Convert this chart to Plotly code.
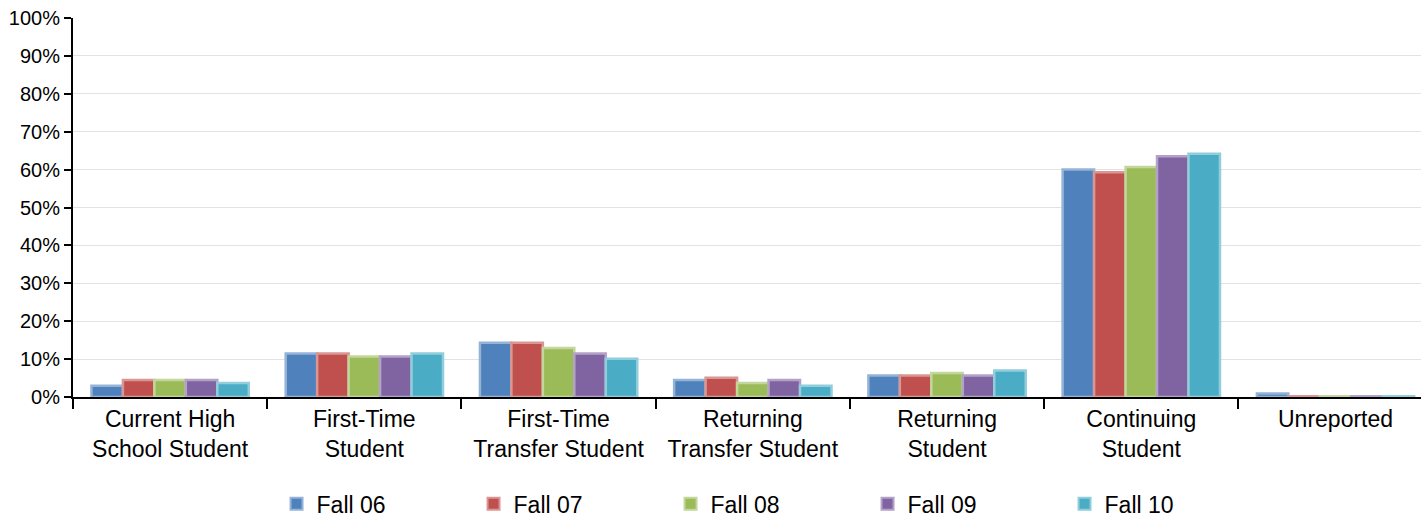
import plotly.graph_objects as go

categories = ["Current High<br>School Student", "First-Time<br>Student", "First-Time<br>Transfer Student",
              "Returning<br>Transfer Student", "Returning<br>Student", "Continuing<br>Student", "Unreported"]
series_names = ["Fall 06", "Fall 07", "Fall 08", "Fall 09", "Fall 10"]
fall06 = [3.0, 11.5, 14.3, 4.5, 5.7, 60.0, 0.9]
fall07 = [4.5, 11.5, 14.3, 5.1, 5.7, 59.3, 0.2]
fall08 = [4.5, 10.7, 12.9, 3.7, 6.3, 60.7, 0.2]
fall09 = [4.5, 10.7, 11.5, 4.5, 5.7, 63.5, 0.2]
fall10 = [3.7, 11.5, 10.1, 3.0, 7.0, 64.2, 0.2]
y_ticks = [0, 10, 20, 30, 40, 50, 60, 70, 80, 90, 100]

fills = ["#4F81BD", "#C0504D", "#9BBB59", "#8064A2", "#4BACC6"]
borders = ["#95B3D7", "#D99694", "#C3D69B", "#B3A2C7", "#92CDDC"]

fig = go.Figure()
for name, vals, fc, bc in zip(series_names, [fall06, fall07, fall08, fall09, fall10], fills, borders):
    fig.add_trace(go.Bar(x=categories, y=vals, name=name,
                         marker=dict(color=fc, line=dict(color=bc, width=2.5))))

FONT = "Liberation Sans, Arial, sans-serif"
fig.update_layout(
    width=1421, height=517,
    margin=dict(l=73, r=0, t=18, b=120, autoexpand=False),
    plot_bgcolor="white", paper_bgcolor="white",
    barmode="group", bargap=0.19, bargroupgap=0,
    font=dict(family=FONT, color="black"),
    showlegend=True,
    legend=dict(orientation="h", x=0.151, xanchor="left", y=-0.282, yanchor="middle",
                entrywidth=152, entrywidthmode="pixels", font=dict(size=23, family=FONT),
                itemsizing="constant", borderwidth=0, bgcolor="rgba(0,0,0,0)"),
)
fig.update_xaxes(range=[-0.5, 6.44], showline=True, linecolor="black", linewidth=2,
                 ticks="outside", tickson="boundaries", ticklen=10, tickwidth=2, tickcolor="black",
                 tickfont=dict(size=23, family=FONT), showgrid=False, automargin=False)
fig.update_yaxes(range=[0, 100], tickvals=y_ticks, ticktext=[f"{v}%" for v in y_ticks],
                 showline=True, linecolor="black", linewidth=2,
                 ticks="outside", ticklen=7, tickwidth=2, tickcolor="black",
                 tickfont=dict(size=20, family=FONT), showgrid=True, gridcolor="#e3e3e3", gridwidth=1,
                 zeroline=False, automargin=False)

fig.write_html("out.html", config={"displayModeBar": False},
               post_script="document.body.style.margin='0';document.body.style.overflow='hidden';")
